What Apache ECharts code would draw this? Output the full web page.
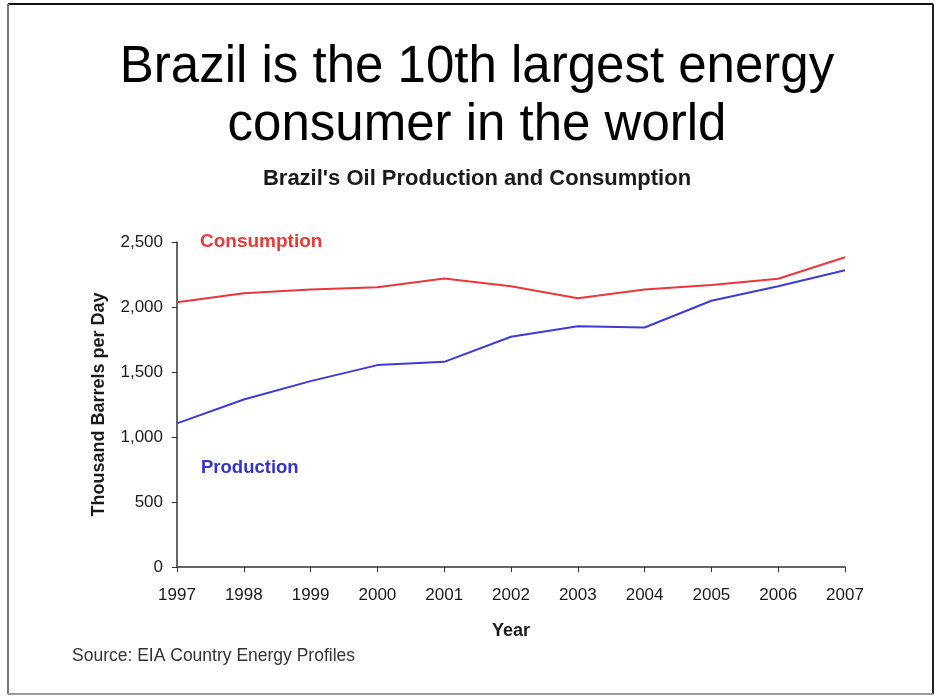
<!DOCTYPE html>
<html>
<head>
<meta charset="utf-8">
<script src="https://cdn.jsdelivr.net/npm/echarts@6/dist/echarts.min.js"></script>
<style>
html,body{margin:0;padding:0;background:#fff;}
#chart{width:935px;height:697px;}
</style>
</head>
<body>
<div id="chart"></div>
<script>
var years = ['1997','1998','1999','2000','2001','2002','2003','2004','2005','2006','2007'];
var consumption = [2037, 2105, 2135, 2152, 2220, 2160, 2068, 2135, 2170, 2217, 2383];
var production = [1105, 1288, 1430, 1553, 1578, 1771, 1852, 1842, 2048, 2160, 2283];
var yTicks = [0, 500, 1000, 1500, 2000, 2500];

var chart = echarts.init(document.getElementById('chart'));
var font = 'Liberation Sans, Arial, sans-serif';
chart.setOption({
  backgroundColor: '#ffffff',
  animation: false,
  title: [
    {text: 'Brazil is the 10th largest energy\nconsumer in the world', left: 472, top: 34,
     textAlign: 'center',
     textStyle: {fontFamily: font, fontSize: 51, fontWeight: 'normal', color: '#000', lineHeight: 58}},
    {text: "Brazil's Oil Production and Consumption", left: 472, top: 163, textAlign: 'center',
     textStyle: {fontFamily: font, fontSize: 22, fontWeight: 'bold', color: '#1a1a1a'}},
    {text: 'Source: EIA Country Energy Profiles', left: 67, top: 642,
     textStyle: {fontFamily: font, fontSize: 17.5, fontWeight: 'normal', color: '#333'}}
  ],
  grid: {left: 177, right: 90, top: 242, bottom: 130, containLabel: false},
  xAxis: {
    type: 'category', data: years, boundaryGap: false,
    name: 'Year', nameLocation: 'middle', nameGap: 55,
    nameTextStyle: {fontFamily: font, fontSize: 18, fontWeight: 'bold', color: '#1a1a1a'},
    axisLine: {lineStyle: {color: '#333', width: 1.5}},
    axisTick: {alignWithLabel: true, length: 5, lineStyle: {color: '#333'}},
    axisLabel: {fontFamily: font, fontSize: 17, color: '#1a1a1a', margin: 20}
  },
  yAxis: {
    type: 'value', min: 0, max: 2500, interval: 500,
    name: 'Thousand Barrels per Day', nameLocation: 'middle', nameGap: 69,
    nameTextStyle: {fontFamily: font, fontSize: 18, fontWeight: 'bold', color: '#1a1a1a'},
    axisLine: {show: true, lineStyle: {color: '#333', width: 1.5}},
    axisTick: {show: true, length: 5, lineStyle: {color: '#333'}},
    splitLine: {show: false},
    axisLabel: {fontFamily: font, fontSize: 17, color: '#1a1a1a', margin: 14,
      formatter: function (v) { return yTicks.indexOf(v) >= 0 ? v.toLocaleString('en-US') : ''; }}
  },
  series: [
    {name: 'Consumption', type: 'line', data: consumption, symbol: 'none',
     lineStyle: {color: '#e8383d', width: 2}},
    {name: 'Production', type: 'line', data: production, symbol: 'none',
     lineStyle: {color: '#3c3cd4', width: 2}}
  ],
  graphic: [
    {type: 'text', left: 200, top: 232, style: {text: 'Consumption', fill: '#e33a3a', font: 'bold 19px ' + font}},
    {type: 'text', left: 201, top: 458, style: {text: 'Production', fill: '#3434c8', font: 'bold 18.5px ' + font}},
    {type: 'line', shape: {x1: 8, y1: 4, x2: 933, y2: 4}, style: {stroke: '#111', lineWidth: 2}},
    {type: 'line', shape: {x1: 8, y1: 4, x2: 8, y2: 694}, style: {stroke: '#777', lineWidth: 2}},
    {type: 'line', shape: {x1: 933, y1: 4, x2: 933, y2: 694}, style: {stroke: '#222', lineWidth: 2}},
    {type: 'line', shape: {x1: 8, y1: 694, x2: 933, y2: 694}, style: {stroke: '#999', lineWidth: 2}}
  ]
});
</script>
</body>
</html>
